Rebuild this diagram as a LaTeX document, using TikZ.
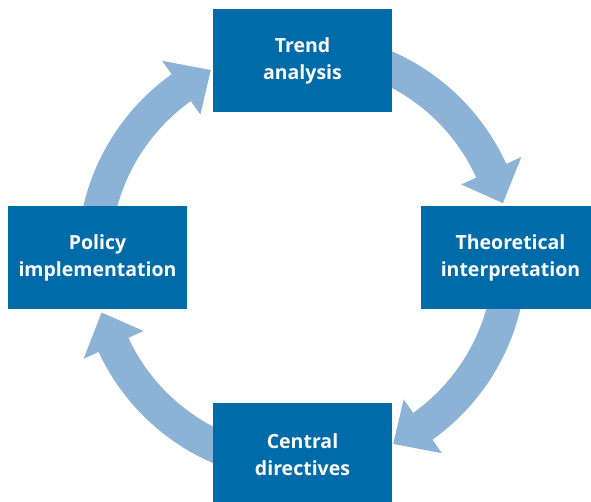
\documentclass[tikz,border=0pt]{standalone}
\usepackage{fontspec}
\setmainfont{Open Sans}
\usepackage{tikz}
\definecolor{boxblue}{RGB}{0,107,169}
\definecolor{ringblue}{RGB}{140,178,214}
\tikzset{ring/.style={fill=ringblue, draw=none}}

\begin{document}
\begin{tikzpicture}[x=1pt,y=1pt]
	% Default action for each node
	\tikzstyle{every node}=[fill=boxblue, text=white, minimum width=179pt, minimum height=103pt, inner sep=0pt, align=center, font=\bfseries\fontsize{19.5}{27}\selectfont];

	\useasboundingbox (0,0) rectangle (591,502);
	\clip (0,0) rectangle (591,502);
	\coordinate (hub) at (302,245);

	% the four arrows of the cycle, under the boxes
	\begin{scope}[shift={(hub)}]
	\fill[ring] (180:224.5) arc[start angle=180, end angle=125.5, radius=224.5] -- (125.5:241) -- (116:208) -- (125.5:175) -- (125.5:191.5) arc[start angle=125.5, end angle=180, radius=191.5] -- cycle;
	\fill[ring] (90:224.5) arc[start angle=90, end angle=24.5, radius=224.5] -- (24.5:241) -- (15:208) -- (24.5:175) -- (24.5:191.5) arc[start angle=24.5, end angle=90, radius=191.5] -- cycle;
	\fill[ring] (0:224.5) arc[start angle=0, end angle=-54.5, radius=224.5] -- (-54.5:241) -- (-64:208) -- (-54.5:175) -- (-54.5:191.5) arc[start angle=-54.5, end angle=0, radius=191.5] -- cycle;
	\fill[ring] (-90:224.5) arc[start angle=-90, end angle=-155, radius=224.5] -- (-155:241) -- (-164.5:208) -- (-155:175) -- (-155:191.5) arc[start angle=-155, end angle=-90, radius=191.5] -- cycle;
	\end{scope}

	\node (trend) at (302.5,441) {Trend\\analysis};
	\node (policy) at (97.5,244.5) {Policy\\implementation};
	\node (interp) at (510.5,244.5) {Theoretical\\interpretation};
	\node (central) at (302.5,47.5) {Central\\directives};

\end{tikzpicture}
\end{document}
